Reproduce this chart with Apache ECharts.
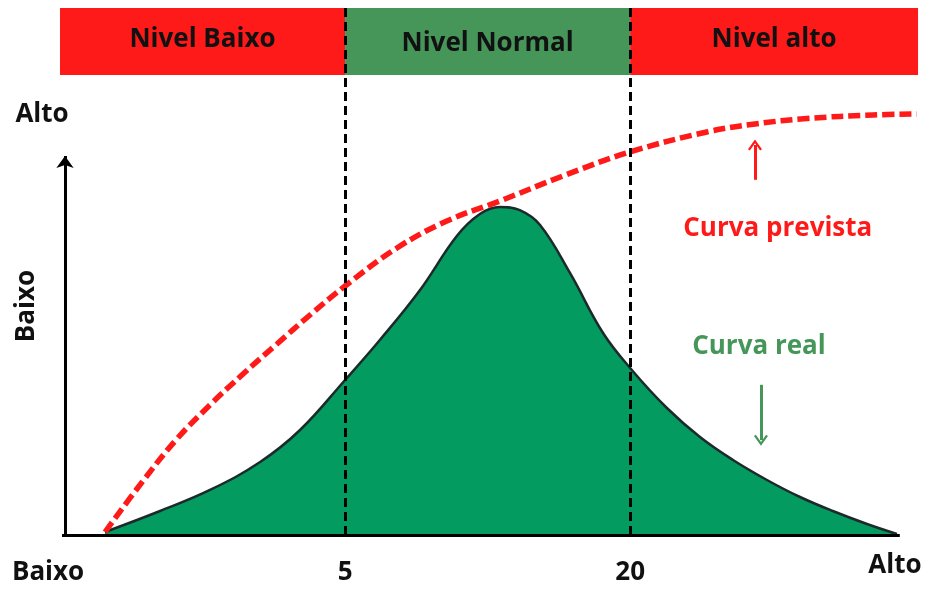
<!DOCTYPE html>
<html>
<head>
<meta charset="utf-8">
<script src="https://cdn.jsdelivr.net/npm/echarts@6/dist/echarts.min.js"></script>
<style>
  html, body { margin: 0; padding: 0; background: #fff; }
  #grafico { width: 934px; height: 590px; }
</style>
</head>
<body>
<div id="grafico"></div>
<script>
// faixas do topo
const nomesNiveis = ['Nivel Baixo', 'Nivel Normal', 'Nivel alto'];
const limitesNiveis = [0, 10, 20, 30.1];
const divisores = [10, 20];

// rótulos do eixo x
const ticksX = [-0.42, 10, 20, 29.29];
const rotulosX = ['Baixo', '5', '20', 'Alto'];

// curvas [x, y]
const curvaPrevista = [
  [1.58, 0.57], [2.91, 10.25], [4.1, 18.22], [5.26, 24.67], [6.42, 30.55], [7.61, 36.24],
  [8.77, 41.75], [10.0, 47.25], [11.82, 54.46], [13.57, 59.58], [15.43, 63.38], [17.64, 68.12],
  [19.99, 72.68], [22.69, 76.47], [24.38, 77.99], [26.2, 79.03], [28.52, 79.7], [30.06, 79.89]
];
const curvaReal = [
  [1.58, 0.57], [3.51, 4.55], [5.26, 8.54], [7.02, 13.85], [8.42, 19.92], [10.0, 29.41],
  [11.22, 37.0], [12.63, 46.49], [13.92, 56.74], [14.73, 60.91], [15.43, 62.24], [16.13, 61.64],
  [16.84, 58.82], [17.89, 49.72], [19.05, 38.33], [20.06, 31.31], [21.29, 24.1], [22.45, 18.6],
  [23.61, 14.23], [24.8, 10.44], [25.96, 7.21], [27.11, 4.55], [28.31, 2.09], [29.36, 0.19]
];

const fonte = "'Open Sans', 'Noto Sans', sans-serif";
const vermelho = '#ff1a1a';
const verdeFaixa = '#46965a';
const verdeCurva = '#039b60';

const coresNiveis = [vermelho, verdeFaixa, vermelho];

function texto(coord, valor, cor, rotacao) {
  return {
    coord: coord,
    symbol: 'circle',
    symbolSize: 0,
    label: {
      show: true,
      position: 'inside',
      formatter: valor,
      rotate: rotacao || 0,
      color: cor,
      fontFamily: fonte,
      fontWeight: 'bold',
      fontSize: 26
    }
  };
}

const seta = 'path://M0,9 L6,0 L12,9 L10.4,10.2 L6,3.4 L1.6,10.2 Z';

const grafico = echarts.init(document.getElementById('grafico'));

grafico.setOption({
  animation: false,
  backgroundColor: '#fff',
  grid: { left: 0, right: 0, top: 8, bottom: 55, outerBoundsMode: 'none', containLabel: false },
  xAxis: {
    type: 'value',
    min: -2.105,
    max: 30.66,
    axisLine: { show: false },
    axisTick: { show: false },
    splitLine: { show: false },
    axisLabel: {
      customValues: ticksX,
      formatter: v => {
        const r = rotulosX[ticksX.indexOf(v)] || '';
        return r === 'Alto' ? '{fim|' + r + '}' : r;
      },
      margin: 25,
      color: '#111',
      fontFamily: fonte,
      fontWeight: 'bold',
      fontSize: 26,
      rich: {
        fim: { fontFamily: fonte, fontWeight: 'bold', fontSize: 26, color: '#111', lineHeight: 12 }
      }
    }
  },
  yAxis: {
    type: 'value',
    min: 0,
    max: 100,
    axisLine: { show: false },
    axisTick: { show: false },
    axisLabel: { show: false },
    splitLine: { show: false }
  },
  series: [
    {
      // faixas de nível
      type: 'line',
      data: [],
      z: 1,
      markArea: {
        silent: true,
        data: nomesNiveis.map((nome, i) => [
          {
            name: nome,
            xAxis: limitesNiveis[i],
            yAxis: 87.3,
            itemStyle: { color: coresNiveis[i] },
            label: { offset: [0, i === 1 ? 2 : -2] }
          },
          { xAxis: limitesNiveis[i + 1], yAxis: 100 }
        ]),
        label: {
          show: true,
          position: 'inside',
          color: '#111',
          fontFamily: fonte,
          fontWeight: 'bold',
          fontSize: 26
        }
      }
    },
    {
      name: 'Curva real',
      type: 'line',
      data: curvaReal,
      smooth: 0.4,
      symbol: 'none',
      z: 2,
      lineStyle: { color: '#1c2a2c', width: 2.5 },
      areaStyle: { color: verdeCurva, opacity: 1 }
    },
    {
      // eixos, divisores e setas
      type: 'line',
      data: [],
      z: 3,
      markLine: {
        silent: true,
        symbol: 'none',
        label: { show: false },
        data: [
          ...divisores.map(d => ({
            xAxis: d,
            lineStyle: { color: '#000', width: 3, type: [9, 5] }
          })),
          [
            { coord: [0.07, 0], lineStyle: { color: '#000', width: 3, type: 'solid' } },
            { coord: [29.46, 0] }
          ],
          [
            { coord: [0.175, 0], lineStyle: { color: '#000', width: 3, type: 'solid' } },
            { coord: [0.175, 71.9], symbol: 'arrow', symbolSize: [13, 12] }
          ],
          [
            { coord: [24.38, 67.4], lineStyle: { color: vermelho, width: 3, type: 'solid' } },
            { coord: [24.38, 74.0], symbol: seta, symbolSize: [14, 11] }
          ],
          [
            { coord: [24.59, 28.5], lineStyle: { color: verdeFaixa, width: 3, type: 'solid' } },
            { coord: [24.59, 18.0], symbol: seta, symbolSize: [14, 11] }
          ]
        ]
      },
      markPoint: {
        silent: true,
        data: [
          texto([-0.63, 79.7], 'Alto', '#111'),
          texto([-1.16, 43.45], 'Baixo', '#111', 90),
          texto([25.18, 58.06], 'Curva prevista', vermelho),
          texto([24.52, 35.67], 'Curva real', verdeFaixa)
        ]
      }
    },
    {
      name: 'Curva prevista',
      type: 'line',
      data: curvaPrevista,
      smooth: 0.4,
      symbol: 'none',
      z: 4,
      lineStyle: { color: '#ff1a1a', width: 5.5, type: [12, 5] }
    }
  ]
});
</script>
</body>
</html>
